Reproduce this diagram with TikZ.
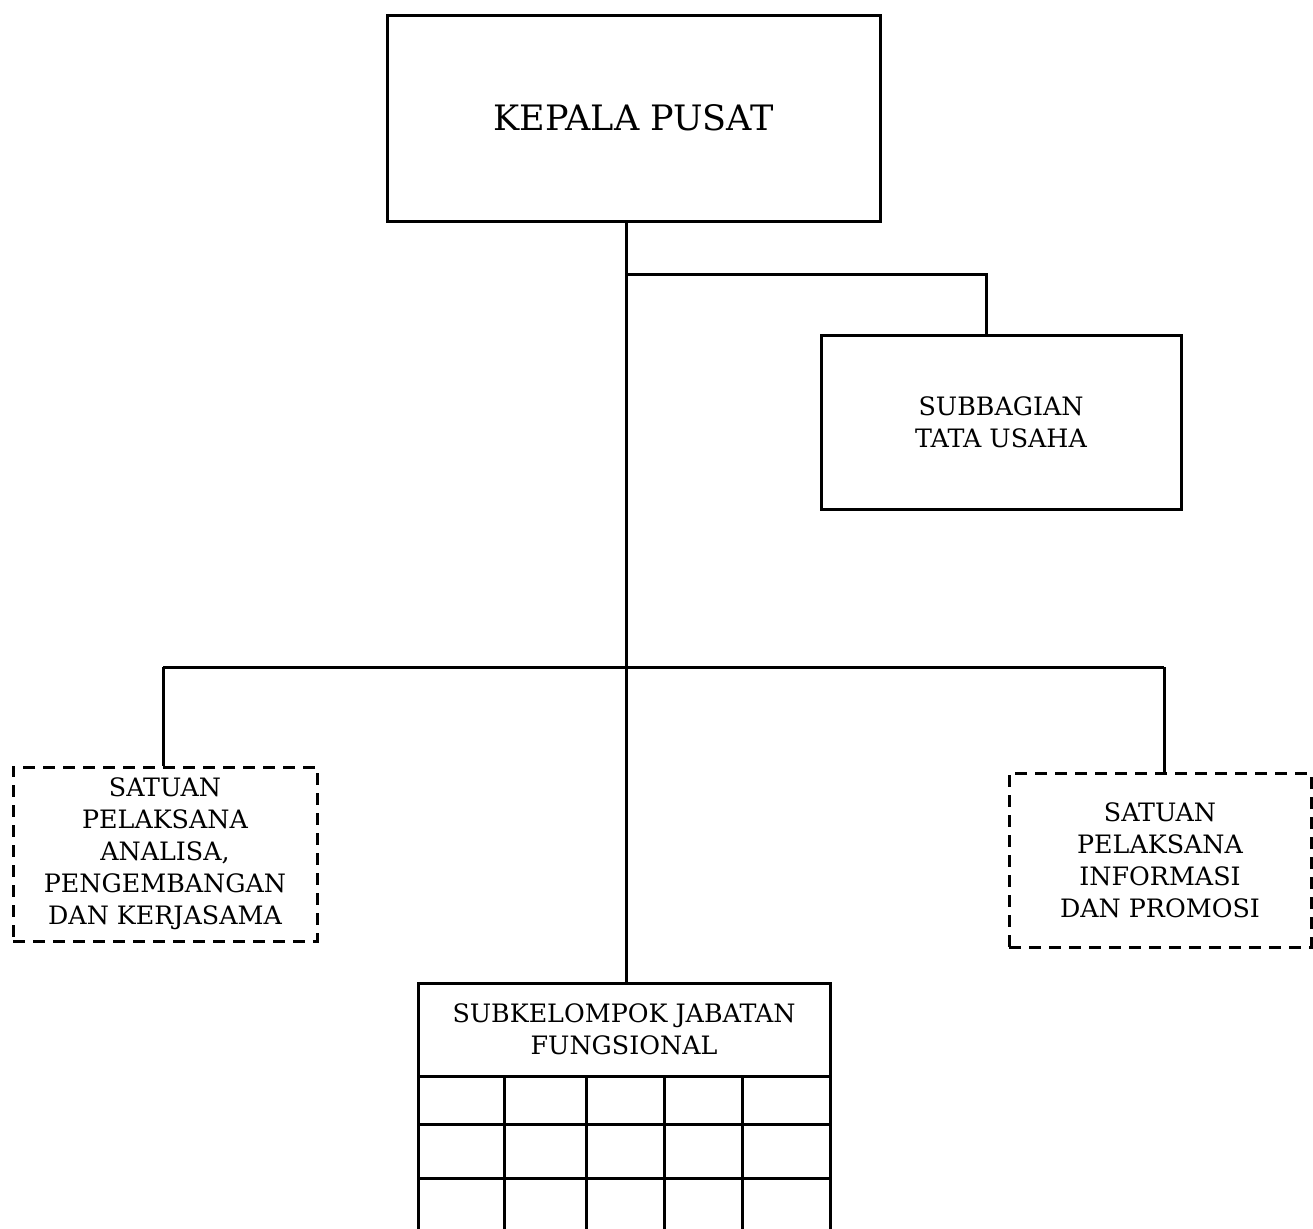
\documentclass[tikz,border=0pt]{standalone}
\usepackage{fontspec}
\setmainfont{DejaVu Serif}
\usetikzlibrary{shapes, positioning}
\tikzstyle{kotak} = [rectangle, draw, line width=0.9pt, align=center, inner sep=0pt, font=\fontsize{7.6}{9.6}\selectfont]
\tikzstyle{putus} = [kotak, dash pattern=on 3.6pt off 2.4pt]
\tikzstyle{line} = [draw, line width=0.9pt]

\begin{document}
\begin{tikzpicture}[x=0.3pt, y=-0.3pt]
			\clip (0,0) rectangle (1313,1228);
			\node [kotak, minimum width=147.9pt, minimum height=61.8pt, font=\fontsize{10.5}{12}\selectfont] (kepala) at (633.5,118) {KEPALA PUSAT};
			\node [kotak, minimum width=108pt, minimum height=52.2pt] (tatausaha) at (1001,422) {SUBBAGIAN\\TATA USAHA};
			\node [putus, minimum width=91.2pt, minimum height=52.2pt] (analisa) at (165,854) {SATUAN\\PELAKSANA\\ANALISA,\\PENGEMBANGAN\\DAN KERJASAMA};
			\node [putus, minimum width=90.6pt, minimum height=52.2pt] (informasi) at (1160,860) {SATUAN\\PELAKSANA\\INFORMASI\\DAN PROMOSI};
			\node [kotak, minimum width=123.6pt, minimum height=27.9pt] (subkel) at (624,1029.5) {SUBKELOMPOK JABATAN\\FUNGSIONAL};
			\coordinate (cabang) at (626,274);
			\coordinate (tu) at (986,274);
			\coordinate (kiri) at (163,667);
			\coordinate (kanan) at (1164,667);
			
			\path [line] (kepala.south -| cabang) -- (subkel.north -| cabang);
			\path [line] (cabang) -- (tu) -- (tu |- tatausaha.north);
			\path [line] (kiri) -- (kanan);
			\path [line] (kiri) -- (kiri |- analisa.north);
			\path [line] (kanan) -- (kanan |- informasi.north);
			
			\path [line] (418,1076) rectangle (830,1240);
			\foreach \x in {504,586,664,742}
				\path [line] (\x,1076) -- (\x,1240);
			\foreach \y in {1124,1178}
				\path [line] (418,\y) -- (830,\y);
\end{tikzpicture}
\end{document}
